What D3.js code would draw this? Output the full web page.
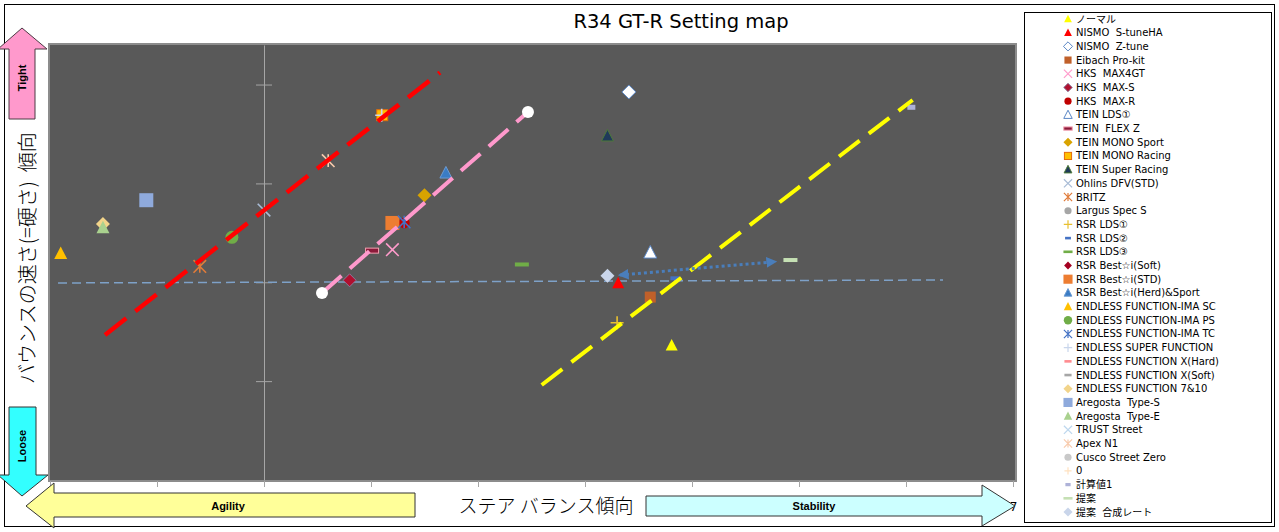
<!DOCTYPE html>
<html><head><meta charset="utf-8">
<script src="https://cdn.jsdelivr.net/npm/d3@7"></script>
<style>body{margin:0;background:#fff;overflow:hidden}</style>
</head><body><svg id="c" width="1279" height="532"></svg>
<script>
// ---------------- DATA ----------------
const chartTitle = "R34 GT-R Setting map";
const xTitle = "ステア バランス傾向";
const yTitle = "バウンスの速さ(=硬さ)  傾向";
const xTicks = [-2, -1, 0, 1, 2, 3, 4, 5, 6, 7];
const xTickLabelsVisible = [7];   // the other labels are hidden behind the arrows / title
const yTicks = [-1, 0, 1, 2];
const seriesNames = ["ノーマル","NISMO  S-tuneHA","NISMO  Z-tune","Eibach Pro-kit","HKS  MAX4GT","HKS  MAX-S","HKS  MAX-R","TEIN LDS①","TEIN  FLEX Z","TEIN MONO Sport","TEIN MONO Racing","TEIN Super Racing","Ohlins DFV(STD)","BRITZ","Largus Spec S","RSR LDS①","RSR LDS②","RSR LDS③","RSR Best☆i(Soft)","RSR Best☆i(STD)","RSR Best☆i(Herd)&Sport","ENDLESS FUNCTION-IMA SC","ENDLESS FUNCTION-IMA PS","ENDLESS FUNCTION-IMA TC","ENDLESS SUPER FUNCTION","ENDLESS FUNCTION X(Hard)","ENDLESS FUNCTION X(Soft)","ENDLESS FUNCTION 7&10","Aregosta  Type-S","Aregosta  Type-E","TRUST Street","Apex N1","Cusco Street Zero","0","計算値1","提案","提案  合成レート"];
const pointX = [3.81, 3.31, 3.41, 3.61, 1.20, 0.80, 1.31, 3.61, 1.01, 1.50, 1.105, 3.21, 0.00, -0.60, null, 3.30, 3.84, 2.41, null, 1.20, 1.70, -1.90, -0.30, 1.31, 1.10, null, null, -1.505, -1.10, -1.505, null, 0.60, null, null, 6.05, 4.92, 3.21];
const pointY = [-0.64, -0.01, 1.925, -0.15, 0.33, 0.02, 0.60, 0.30, 0.32, 0.88, 1.69, 1.48, 0.73, 0.16, null, -0.41, 0.04, 0.18, null, 0.60, 1.105, 0.29, 0.455, 0.61, 1.69, null, null, 0.59, 0.83, 0.55, null, 1.23, null, null, 1.77, 0.225, 0.065];
// line series
const redLineX = [-1.486, 1.645];
const redLineY = [-0.533, 2.122];
const pinkLineX = [0.542, 2.467];
const pinkLineY = [-0.108, 1.723];
const yellowLineX = [2.595, 6.062];
const yellowLineY = [-1.039, 1.844];
const arrowLineX = [3.327, 4.776];
const arrowLineY = [0.074, 0.208];
const baseLineX = [-1.925, 6.346];
const baseLineY = [-0.007, 0.023];

// ---------------- STYLES ----------------
const markerStyles = [
 {t:'tri', s:12, f:'#FFFF00'},
 {t:'tri', s:12, f:'#FF0000'},
 {t:'dia', s:14, f:'#FFFFFF', c:'#5B87C5'},
 {t:'sq', s:11, f:'#C0602A'},
 {t:'x', s:14, c:'#FF9BCB'},
 {t:'dia', s:13, f:'#B0102F', c:'#8a7a9a'},
 {t:'circ', s:11, f:'#C00000'},
 {t:'tri', s:13, f:'#FFFFFF', c:'#5B87C5'},
 {t:'dash', s:13, h:5, f:'#8B1A3A', c:'#F4A0B0'},
 {t:'dia', s:14, f:'#D8A300'},
 {t:'sq', s:11, f:'#FFC000', c:'#E46C0A'},
 {t:'tri', s:12, f:'#1F3A5A', c:'#4E7A3A'},
 {t:'x', s:14, c:'#A9BCD6'},
 {t:'ast', s:14, c:'#E07B39'},
 {t:'circ', s:11, f:'#A6A6A6'},
 {t:'plus', s:13, c:'#E8C030'},
 {t:'dash', s:9, h:4, f:'#4472C4'},
 {t:'dash', s:14, h:4, f:'#70AD47'},
 {t:'dia', s:12, f:'#A50021'},
 {t:'sq', s:14, f:'#ED7D31'},
 {t:'tri', s:12, f:'#3A7CC4', c:'#6C9BD2'},
 {t:'tri', s:13, f:'#FFC000'},
 {t:'circ', s:13, f:'#70AD47'},
 {t:'ast', s:14, c:'#4472C4'},
 {t:'plus', s:13, c:'#C9D6EC'},
 {t:'dash', s:11, h:4, f:'#FF8C90'},
 {t:'dash', s:11, h:4, f:'#A6A6A6'},
 {t:'dia', s:14, f:'#F2D48A'},
 {t:'sq', s:14, f:'#8FAADC'},
 {t:'tri', s:13, f:'#A9D18E'},
 {t:'x', s:14, c:'#BDD7EE'},
 {t:'ast', s:14, c:'#F8CBAD'},
 {t:'circ', s:11, f:'#C9C9C9'},
 {t:'plus', s:11, c:'#FFE2C0'},
 {t:'dash', s:8, h:5, f:'#AEB2D8'},
 {t:'dash', s:14, h:4, f:'#C5E0B4'},
 {t:'dia', s:14, f:'#C9D5EA'}
];

// ---------------- CHART ----------------
const svg = d3.select('#c');
const plot = {l:49, t:44, r:1016, b:481};
const x = d3.scaleLinear().domain([-2, 7]).range([50, 1013]);
const y = d3.scaleLinear().domain([-2, 2.4]).range([480, 45]);

svg.append('rect').attr('x',4.5).attr('y',4.5).attr('width',1270).attr('height',522)
  .attr('fill','#fff').attr('stroke','#000').attr('stroke-width',1);

svg.append('defs').append('clipPath').attr('id','pc').append('rect')
  .attr('x',plot.l).attr('y',plot.t).attr('width',plot.r-plot.l).attr('height',plot.b-plot.t);

svg.append('rect').attr('x',plot.l).attr('y',plot.t).attr('width',plot.r-plot.l).attr('height',plot.b-plot.t)
  .attr('fill','#595959').attr('stroke','#8C8C8C').attr('stroke-width',2);

// title
svg.append('text').attr('x',681).attr('y',28).attr('text-anchor','middle')
  .attr('font-family','DejaVu Sans, sans-serif').attr('font-size',19.5).attr('fill','#000').text(chartTitle);

// y axis (crossing at x=0) with cross ticks
const yAxG = svg.append('g').attr('transform',`translate(${x(0)},0)`);
yAxG.call(d3.axisLeft(y).tickValues(yTicks).tickSize(8).tickSizeOuter(0).tickFormat(''));
const yAxG2 = svg.append('g').attr('transform',`translate(${x(0)},0)`);
yAxG2.call(d3.axisRight(y).tickValues(yTicks).tickSize(8).tickSizeOuter(0).tickFormat(''));
yAxG2.select('.domain').remove();
svg.selectAll('g path.domain, g .tick line').attr('stroke','#A6A6A6');

// x axis at bottom
const xAxG = svg.append('g').attr('transform',`translate(0,${plot.b})`);
xAxG.call(d3.axisBottom(x).tickValues(xTicks).tickSize(6).tickSizeOuter(0).tickPadding(15)
  .tickFormat(d => xTickLabelsVisible.includes(d) ? d3.format('d')(d) : ''));
xAxG.select('.domain').remove();
xAxG.selectAll('.tick line').attr('stroke','#A6A6A6');
xAxG.selectAll('.tick text').attr('font-family','DejaVu Sans, sans-serif').attr('font-size',12).attr('fill','#000');

// plot content
const pg = svg.append('g').attr('clip-path','url(#pc)');
const line = d3.line().x(d=>x(d[0])).y(d=>y(d[1]));
const zip = (a,b)=>a.map((v,i)=>[v,b[i]]);

pg.append('path').attr('d', line(zip(baseLineX, baseLineY))).attr('fill','none')
  .attr('stroke','#7EA1C8').attr('stroke-width',1.5).attr('stroke-dasharray','9,5');

// points
const markerG = pg.append('g');
function drawMarker(g, st, k){
  const s = st.s*k;
  let el;
  switch(st.t){
    case 'tri': el = g.append('path').attr('d',`M0,${-s*0.55}L${s/2},${s*0.42}L${-s/2},${s*0.42}Z`); break;
    case 'dia': el = g.append('path').attr('d',`M0,${-s/2}L${s/2},0L0,${s/2}L${-s/2},0Z`); break;
    case 'sq': el = g.append('rect').attr('x',-s/2).attr('y',-s/2).attr('width',s).attr('height',s); break;
    case 'circ': el = g.append('circle').attr('r',s/2); break;
    case 'dash': el = g.append('rect').attr('x',-s/2).attr('y',-st.h*k/2).attr('width',s).attr('height',st.h*k); break;
    case 'x': { const h=s*0.45; el = g.append('path').attr('d',`M${-h},${-h}L${h},${h}M${-h},${h}L${h},${-h}`); break; }
    case 'ast': { const h=s*0.45; el = g.append('path').attr('d',`M${-h},${-h}L${h},${h}M${-h},${h}L${h},${-h}M0,${-h}L0,${h}`); break; }
    case 'plus': { const h=s*0.5; el = g.append('path').attr('d',`M${-h},0L${h},0M0,${-h}L0,${h}`); break; }
  }
  const lineType = (st.t==='x'||st.t==='ast'||st.t==='plus');
  if(lineType){ el.attr('fill','none').attr('stroke',st.c).attr('stroke-width',1.6*Math.max(k,0.75)); }
  else { el.attr('fill',st.f).attr('stroke',st.c||'none').attr('stroke-width',st.c?1:0); }
}

seriesNames.forEach((n,i)=>{
  if(pointX[i]==null) return;
  const g = markerG.append('g').attr('transform',`translate(${x(pointX[i])},${y(pointY[i])})`);
  drawMarker(g, markerStyles[i], 1);
});

// dashed trend lines
pg.append('path').attr('d', line(zip(redLineX, redLineY))).attr('fill','none')
  .attr('stroke','#FF0000').attr('stroke-width',4.5).attr('stroke-dasharray','27,11.5');
pg.append('path').attr('d', line(zip(pinkLineX, pinkLineY))).attr('fill','none')
  .attr('stroke','#FF99CC').attr('stroke-width',4).attr('stroke-dasharray','26,11');
pg.selectAll('circle.end').data(zip(pinkLineX, pinkLineY)).enter().append('circle').attr('class','end')
  .attr('cx',d=>x(d[0])).attr('cy',d=>y(d[1])).attr('r',6).attr('fill','#fff');
pg.append('path').attr('d', line(zip(yellowLineX, yellowLineY))).attr('fill','none')
  .attr('stroke','#FFFF00').attr('stroke-width',4).attr('stroke-dasharray','26,11.5');

// dotted double arrow
const defs = svg.select('defs');
defs.append('marker').attr('id','ah').attr('viewBox','0 0 10 10').attr('refX',8).attr('refY',5)
  .attr('markerWidth',3.6).attr('markerHeight',3.6).attr('orient','auto-start-reverse')
  .append('path').attr('d','M0,0L10,5L0,10Z').attr('fill','#4A7EBB');
pg.append('path').attr('d', line(zip(arrowLineX, arrowLineY))).attr('fill','none')
  .attr('stroke','#4A7EBB').attr('stroke-width',3).attr('stroke-dasharray','3,3')
  .attr('marker-start','url(#ah)').attr('marker-end','url(#ah)');

// ---------------- ARROWS ----------------
const poly = pts => pts.map(p=>p.join(',')).join(' ');
svg.append('polygon').attr('points', poly([[22,28],[47,49],[35,49],[35,119],[9,119],[9,49],[-2,49]]))
  .attr('fill','#FF99CC').attr('stroke','#4d3a44').attr('stroke-width',1);
svg.append('polygon').attr('points', poly([[9,407],[36,407],[36,475],[48,475],[22,496],[-2,475],[9,475]]))
  .attr('fill','#33FFFF').attr('stroke','#333').attr('stroke-width',1);
svg.append('polygon').attr('points', poly([[26,506],[54,483],[54,493],[415,493],[415,517],[54,517],[54,528]]))
  .attr('fill','#FFFF99').attr('stroke','#333').attr('stroke-width',1);
svg.append('polygon').attr('points', poly([[646,496],[982,496],[982,485],[1015,506],[982,526],[982,516],[646,516]]))
  .attr('fill','#CCFFFF').attr('stroke','#333').attr('stroke-width',1);

const boldTxt = (t,cx,cy,rot)=>svg.append('text').attr('transform',`translate(${cx},${cy}) rotate(${rot})`)
  .attr('text-anchor','middle').attr('dominant-baseline','central')
  .attr('font-family','Liberation Sans, Arial, sans-serif').attr('font-weight','bold').attr('font-size',11).text(t);
boldTxt('Tight',22,78,-90);
boldTxt('Loose',22,446,-90);
boldTxt('Agility',228,506,0);
boldTxt('Stability',814,506,0);

// axis titles
svg.append('text').attr('x',546).attr('y',513).attr('text-anchor','middle')
  .attr('font-family','Noto Sans CJK JP, sans-serif').attr('font-weight',300).attr('font-size',19).text(xTitle);
svg.append('text').attr('transform','translate(26,258) rotate(-90)').attr('text-anchor','middle')
  .attr('dominant-baseline','central')
  .attr('font-family','Noto Sans CJK JP, sans-serif').attr('font-weight',300).attr('font-size',20)
  .style('white-space','pre').text(yTitle);

// ---------------- LEGEND ----------------
const lg = svg.append('g');
lg.append('rect').attr('x',1024.5).attr('y',12.5).attr('width',247).attr('height',510)
  .attr('fill','#fff').attr('stroke','#000').attr('stroke-width',1);
const ly = d3.scaleLinear().domain([0, seriesNames.length-1]).range([19, 512]);
seriesNames.forEach((n,i)=>{
  const g = lg.append('g').attr('transform',`translate(1068,${ly(i)})`);
  drawMarker(g, markerStyles[i], 0.65);
  lg.append('text').attr('x',1076).attr('y',ly(i)).attr('dominant-baseline','central')
    .attr('font-family','DejaVu Sans, Noto Sans CJK JP, sans-serif').attr('font-size',10)
    .style('white-space','pre').attr('fill','#000').text(n);
});
</script></body></html>
